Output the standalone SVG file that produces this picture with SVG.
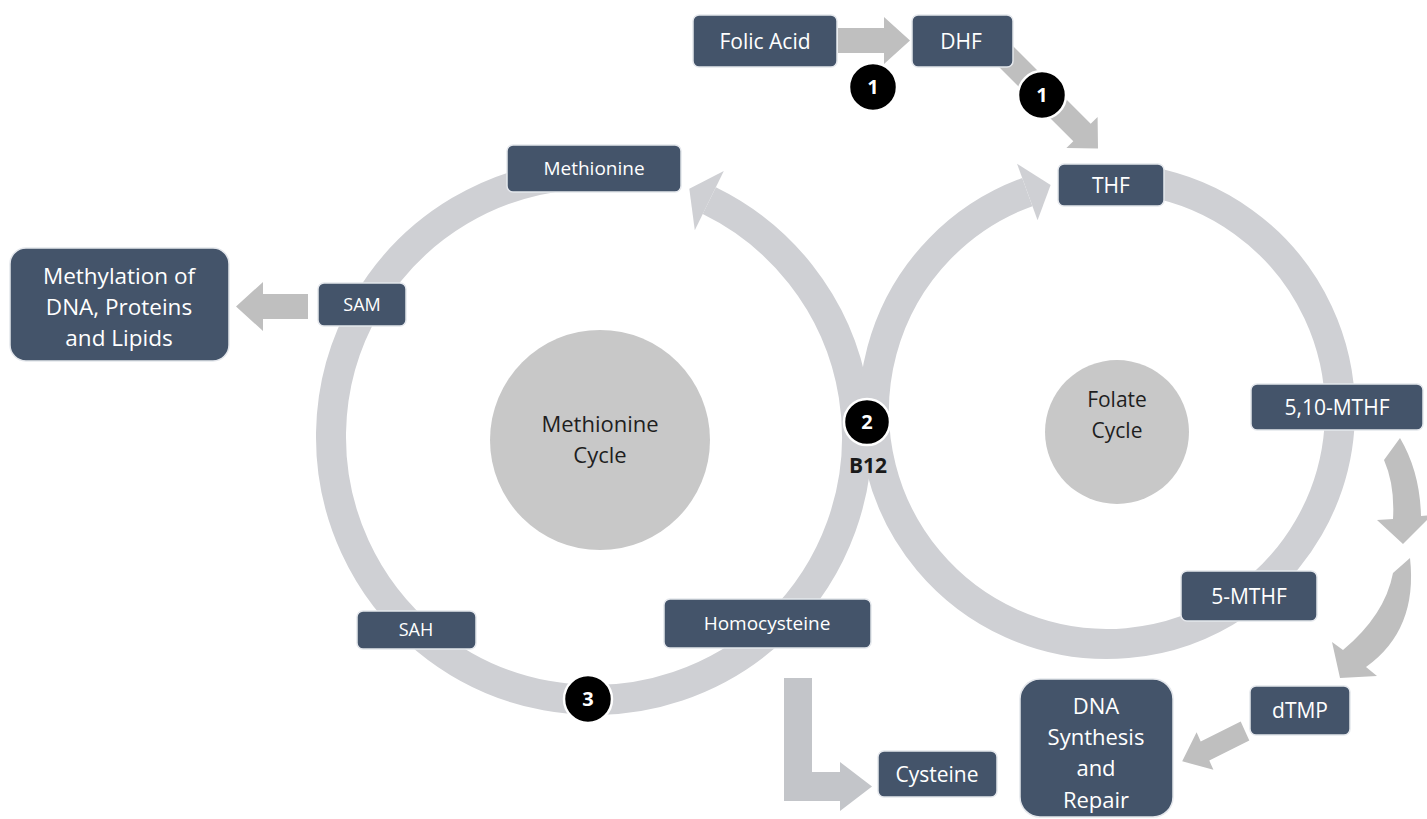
<svg xmlns="http://www.w3.org/2000/svg" width="1427" height="819" viewBox="0 0 1427 819">
<style>
.box{fill:#44546a;stroke:#e4e7ec;stroke-width:1.5}
.t{font-family:"Open Sans","Liberation Sans",Arial,sans-serif;fill:#ffffff;text-anchor:middle}
.dt{font-family:"Open Sans","Liberation Sans",Arial,sans-serif;fill:#1e1e1e;text-anchor:middle}
.ring{fill:none;stroke:#cfd0d4;stroke-width:30}
.rh{fill:#cfd0d4}
.arr{fill:#bfbfbf}
.arr2{fill:#c3c5c9}
.core{fill:#c8c8c8}
.numc{fill:#000000;stroke:#ffffff;stroke-width:2.5}
.nt{font-family:"Open Sans","Liberation Sans",Arial,sans-serif;fill:#ffffff;text-anchor:middle;font-weight:bold;font-size:20px}
</style>
<rect width="1427" height="819" fill="#ffffff"/>
<g id="cycles">
  <circle class="core" cx="600" cy="440" r="110"/>
  <text class="dt" x="600" y="432" font-size="22">Methionine</text>
  <text class="dt" x="600" y="463" font-size="22">Cycle</text>
  <circle class="core" cx="1117" cy="432" r="72"/>
  <text class="dt" x="1117" y="407" font-size="21">Folate</text>
  <text class="dt" x="1117" y="438" font-size="21">Cycle</text>
</g>
<g id="connectors">
  <path class="ring" d="M 709.29 200.62 A 263 263 0 1 1 571.08 175.0"/>
  <polygon class="rh" points="723.8,171.0 689.3,188.7 694.8,230.3"/>
  <path class="ring" d="M 1147.46 181.54 A 233 233 0 1 1 1027.31 192.05"/>
  <polygon class="rh" points="1017.05,163.86 1050.63,184.92 1037.57,220.24"/>
  <path class="arr" d="M 838 28 L 884 28 L 884 17 L 910 40.5 L 884 64 L 884 53 L 838 53 Z"/>
  <path class="arr" d="M 1008.7 41.8 L 1090.7 123.8 L 1097.6 116.9 L 1098 148.5 L 1066.4 148.1 L 1073.3 141.2 L 991.3 59.2 Z"/>
  <path class="arr" d="M 308 294 L 263 294 L 263 282 L 236 306.5 L 263 331 L 263 319 L 308 319 Z"/>
  <path class="arr" d="M 1384 460 L 1400 438 Q 1420 472 1421 516 L 1432 515 L 1403 544 L 1377 520 L 1393 519 Q 1395 485 1384 460 Z"/>
  <path class="arr" d="M 1393 573 L 1410 558 Q 1418 630 1366 667 L 1377 676 L 1340 678 L 1332 642 L 1343 650 Q 1385 615 1393 573 Z"/>
  <path class="arr" d="M 1240.7 721.4 L 1200.7 741.4 L 1196.6 732.3 L 1182.2 761.3 L 1213.4 769.7 L 1209.3 760.6 L 1249.3 740.6 Z"/>
  <path class="arr2" d="M 784 678 L 812 678 L 812 772 L 840 772 L 840 762 L 872 786.5 L 840 811 L 840 801 L 784 801 Z"/>
</g>
<g id="folic-acid"><rect class="box" x="693" y="15" width="144" height="52" rx="6"/><text class="t" x="765" y="49" font-size="21">Folic Acid</text></g>
<g id="dhf"><rect class="box" x="912" y="15" width="101" height="52" rx="6"/><text class="t" x="961" y="49" font-size="21">DHF</text></g>
<g id="thf"><rect class="box" x="1058" y="164" width="106" height="42" rx="6"/><text class="t" x="1111" y="193" font-size="21">THF</text></g>
<g id="methionine"><rect class="box" x="507" y="145" width="174" height="47" rx="6"/><text class="t" x="594" y="175" font-size="19">Methionine</text></g>
<g id="sam"><rect class="box" x="318" y="283" width="88" height="43" rx="6"/><text class="t" x="362" y="311" font-size="18">SAM</text></g>
<g id="methylation"><rect class="box" x="10" y="248" width="219" height="113" rx="16"/>
  <text class="t" x="119" y="284" font-size="22.5">Methylation of</text>
  <text class="t" x="119" y="315" font-size="22.5">DNA, Proteins</text>
  <text class="t" x="119" y="346" font-size="22.5">and Lipids</text></g>
<g id="sah"><rect class="box" x="357" y="611" width="119" height="38" rx="6"/><text class="t" x="416" y="636" font-size="18">SAH</text></g>
<g id="homocysteine"><rect class="box" x="664" y="599" width="207" height="49" rx="6"/><text class="t" x="767" y="630" font-size="19">Homocysteine</text></g>
<g id="cysteine"><rect class="box" x="878" y="751" width="119" height="46" rx="6"/><text class="t" x="937" y="782" font-size="21">Cysteine</text></g>
<g id="mthf510"><rect class="box" x="1251" y="384" width="172" height="46" rx="6"/><text class="t" x="1337" y="415" font-size="21">5,10-MTHF</text></g>
<g id="mthf5"><rect class="box" x="1181" y="571" width="136" height="50" rx="6"/><text class="t" x="1249" y="604" font-size="21">5-MTHF</text></g>
<g id="dtmp"><rect class="box" x="1250" y="686" width="100" height="49" rx="6"/><text class="t" x="1300" y="718" font-size="21">dTMP</text></g>
<g id="dna-synthesis"><rect class="box" x="1020" y="679" width="153" height="138" rx="20"/>
  <text class="t" x="1096" y="714" font-size="22">DNA</text>
  <text class="t" x="1096" y="745" font-size="22">Synthesis</text>
  <text class="t" x="1096" y="776" font-size="22">and</text>
  <text class="t" x="1096" y="808" font-size="22">Repair</text></g>
<g id="step1a"><circle class="numc" cx="873" cy="87" r="24"/><text class="nt" x="873" y="94">1</text></g>
<g id="step1b"><circle class="numc" cx="1042" cy="95" r="24"/><text class="nt" x="1042" y="102">1</text></g>
<g id="step2"><circle class="numc" cx="867" cy="422" r="23"/><text class="nt" x="867" y="429">2</text>
  <text x="868" y="473" font-family="Open Sans, Liberation Sans, Arial, sans-serif" font-weight="bold" font-size="21" fill="#1a1a1a" text-anchor="middle">B12</text></g>
<g id="step3"><circle class="numc" cx="588" cy="699" r="24"/><text class="nt" x="588" y="706">3</text></g>
</svg>
